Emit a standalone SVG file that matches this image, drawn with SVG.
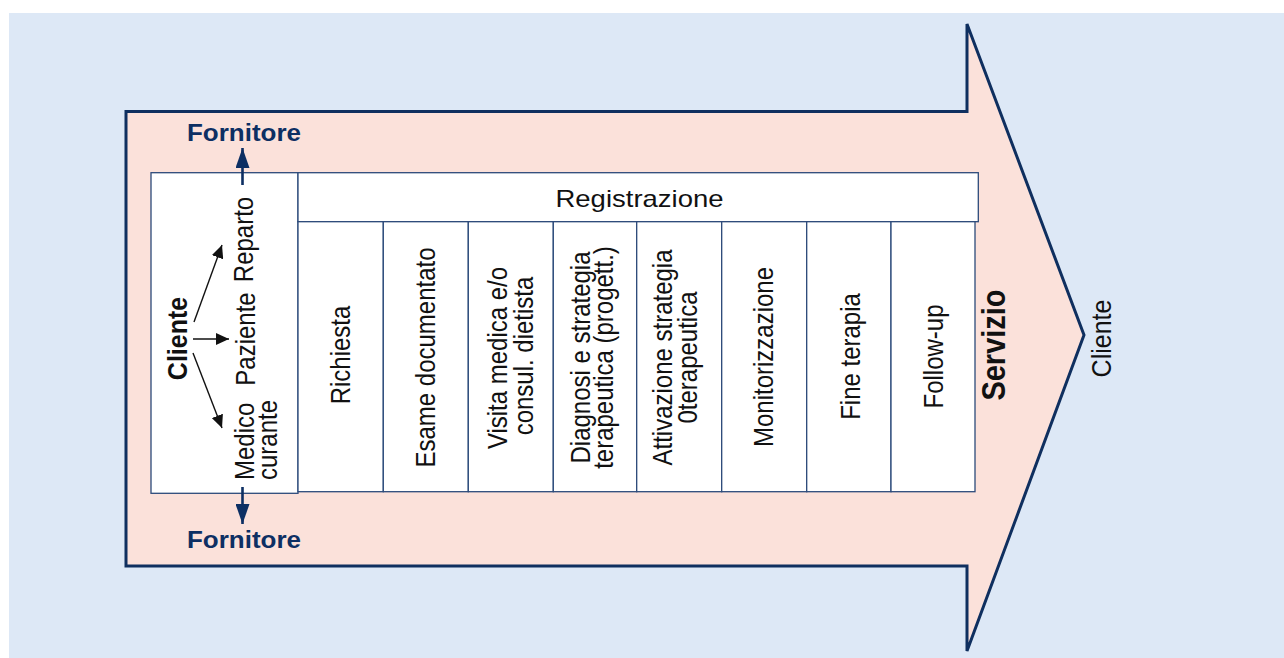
<svg xmlns="http://www.w3.org/2000/svg" width="1284" height="658" viewBox="0 0 1284 658">
<style>
.bg{fill:#dde8f6}
.big{fill:#fbe1da;stroke:#0f2f5f;stroke-width:3;stroke-linejoin:miter}
.box{fill:#ffffff;stroke:#2c4a7a;stroke-width:1.3}
.t{font-family:"Liberation Sans",Arial,Helvetica,sans-serif;font-size:24px;fill:#111;text-anchor:middle}
.ts{font-family:"Liberation Sans",Arial,Helvetica,sans-serif;font-size:24px;fill:#111;text-anchor:start}
.b{font-weight:bold}
.forn{font-family:"Liberation Sans",Arial,Helvetica,sans-serif;font-size:23px;font-weight:bold;fill:#0d2f63;text-anchor:middle}
.ab{stroke:#111;stroke-width:1.4;fill:none}
.an{stroke:#0d2f63;stroke-width:2.6;fill:none}
</style>
<defs>
<marker id="hb" markerUnits="userSpaceOnUse" markerWidth="14" markerHeight="12" refX="13" refY="6" orient="auto"><path d="M0,0 L13,6 L0,12 z" fill="#111"/></marker>
<marker id="hn" markerUnits="userSpaceOnUse" markerWidth="20" markerHeight="14" refX="20" refY="7" orient="auto"><path d="M0,0 L20,7 L0,14 z" fill="#0d2f63"/></marker>
</defs>
<rect class="bg" x="9" y="13" width="1275" height="645"/>
<g id="servizio-arrow">
<polygon class="big" points="126,111.5 967,111.5 967,24 1084,335 967,651 967,566 126,566"/>
<text class="t b" style="font-size:29px" transform="translate(1005,345) scale(1.14 1) rotate(-90)">Servizio</text>
</g>
<g id="cliente-out">
<text class="t" style="font-size:25px" transform="translate(1111,338.5) scale(1.14 1) rotate(-90)">Cliente</text>
</g>
<g id="fornitore-top">
<text class="forn" x="244" y="141" textLength="114" lengthAdjust="spacingAndGlyphs">Fornitore</text>
</g>
<g id="fornitore-bottom">
<text class="forn" x="244" y="548" textLength="114" lengthAdjust="spacingAndGlyphs">Fornitore</text>
</g>
<g id="cliente-box">
<rect class="box" x="151" y="172.7" width="147" height="320.6"/>
<text class="t b" style="font-size:25px" transform="translate(187,338.5) scale(1.14 1) rotate(-90)">Cliente</text>
</g>
<g id="reparto">
<text class="t" transform="translate(253,239.5) scale(1.14 1) rotate(-90)">Reparto</text>
</g>
<g id="paziente">
<text class="t" transform="translate(255,339) scale(1.14 1) rotate(-90)">Paziente</text>
</g>
<g id="medico-curante">
<text class="ts" transform="translate(254,480) scale(1.14 1) rotate(-90)">Medico</text>
<text class="ts" transform="translate(277,480) scale(1.14 1) rotate(-90)">curante</text>
</g>
<g id="registrazione">
<rect class="box" x="298" y="172.7" width="680.3" height="49"/>
<text class="t" x="639.5" y="207" textLength="168" lengthAdjust="spacingAndGlyphs">Registrazione</text>
</g>
<g id="richiesta">
<rect class="box" x="298" y="221.7" width="85.3" height="270"/>
<text class="t" transform="translate(350,355) scale(1.14 1) rotate(-90)">Richiesta</text>
</g>
<g id="esame">
<rect class="box" x="383.3" y="221.7" width="85" height="270"/>
<text class="t" transform="translate(435,357.5) scale(1.14 1) rotate(-90)">Esame documentato</text>
</g>
<g id="visita">
<rect class="box" x="468.3" y="221.7" width="85" height="270"/>
<text class="t" transform="translate(507,358) scale(1.14 1) rotate(-90)">Visita medica e/o</text>
<text class="t" transform="translate(533,356) scale(1.14 1) rotate(-90)">consul. dietista</text>
</g>
<g id="diagnosi">
<rect class="box" x="553.3" y="221.7" width="83.4" height="270"/>
<text class="t" transform="translate(590,357.5) scale(1.14 1) rotate(-90)">Diagnosi e strategia</text>
<text class="t" transform="translate(613,357.5) scale(1.14 1) rotate(-90)">terapeutica (progett.)</text>
</g>
<g id="attivazione">
<rect class="box" x="636.7" y="221.7" width="85" height="270"/>
<text class="t" transform="translate(672,357.5) scale(1.14 1) rotate(-90)">Attivazione strategia</text>
<text class="t" transform="translate(697,357.5) scale(1.14 1) rotate(-90)">0terapeutica</text>
</g>
<g id="monitorizzazione">
<rect class="box" x="721.7" y="221.7" width="85" height="270"/>
<text class="t" transform="translate(773,357) scale(1.14 1) rotate(-90)">Monitorizzazione</text>
</g>
<g id="fine-terapia">
<rect class="box" x="806.7" y="221.7" width="84.3" height="270"/>
<text class="t" transform="translate(860,356.5) scale(1.14 1) rotate(-90)">Fine terapia</text>
</g>
<g id="follow-up">
<rect class="box" x="891" y="221.7" width="84" height="270"/>
<text class="t" transform="translate(943,356.5) scale(1.14 1) rotate(-90)">Follow-up</text>
</g>
<g id="connectors">
<line class="ab" x1="194" y1="322" x2="222" y2="245" marker-end="url(#hb)"/>
<line class="ab" x1="193" y1="339" x2="229" y2="339" marker-end="url(#hb)"/>
<line class="ab" x1="193" y1="353" x2="222" y2="428" marker-end="url(#hb)"/>
<line class="an" x1="242.5" y1="185" x2="242.5" y2="148" marker-end="url(#hn)"/>
<line class="an" x1="242.5" y1="487" x2="242.5" y2="524" marker-end="url(#hn)"/>
</g>
</svg>
